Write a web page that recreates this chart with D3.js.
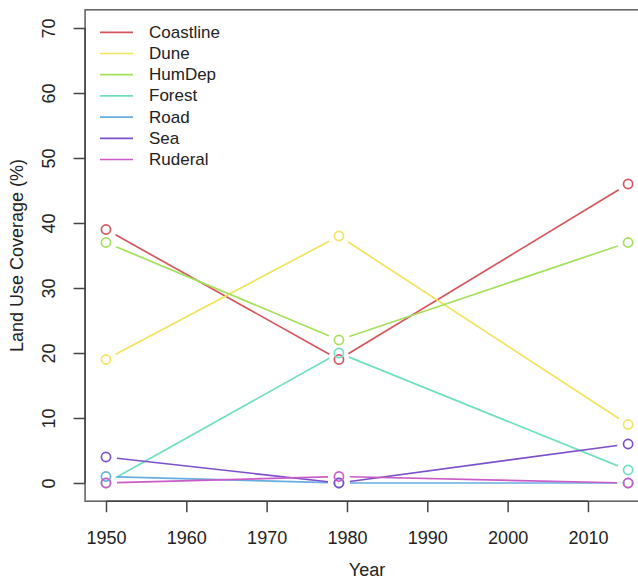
<!DOCTYPE html>
<html>
<head>
<meta charset="utf-8">
<script src="https://cdn.jsdelivr.net/npm/d3@7"></script>
<style>
  html, body { margin: 0; padding: 0; background: #fff; }
  svg { display: block; font-family: "Liberation Sans", Arial, Helvetica, sans-serif; }
</style>
</head>
<body>
<svg id="chart" width="638" height="579"></svg>
<script>
// ---- data ----
const years = [1950, 1979, 2015];
const seriesNames = ["Coastline", "Dune", "HumDep", "Forest", "Road", "Sea", "Ruderal"];
const coastline = [39, 19, 46];
const dune      = [19, 38, 9];
const humdep    = [37, 22, 37];
const forest    = [0, 20, 2];
const road      = [1, 0, 0];
const sea       = [4, 0, 6];
const ruderal   = [0, 1, 0];
const seriesColors = ["#D4575F", "#F1E35E", "#A5E05C", "#70DFC1", "#68ADE2", "#7B50CA", "#CB5BC7"];
const xTicks = [1950, 1960, 1970, 1980, 1990, 2000, 2010];
const yTicks = [0, 10, 20, 30, 40, 50, 60, 70];

const seriesValues = [coastline, dune, humdep, forest, road, sea, ruderal];

// ---- layout ----
const W = 638, H = 579;
const plotL = 85.1, plotR = 649, plotT = 9.8, plotB = 501.2;
const svg = d3.select("#chart");

// R-style 4% extension
const xMin = 1950, xMax = 2015, yMin = 0, yMax = 70;
const xPad = (xMax - xMin) * 0.04, yPad = (yMax - yMin) * 0.04;
const x = d3.scaleLinear().domain([xMin - xPad, xMax + xPad]).range([plotL, plotR]);
const y = d3.scaleLinear().domain([yMin - yPad, yMax + yPad]).range([plotB, plotT]);

const axisColor = "#444";
const textColor = "#222";

// box
svg.append("rect")
  .attr("x", plotL).attr("y", plotT)
  .attr("width", plotR - plotL).attr("height", plotB - plotT)
  .attr("fill", "none").attr("stroke", "#666").attr("stroke-width", 1.6);

// x axis
const gx = svg.append("g").attr("transform", `translate(0,${plotB})`)
  .call(d3.axisBottom(x).tickValues(xTicks).tickSize(11).tickPadding(0).tickFormat(d3.format("d")));
gx.select(".domain").remove();
gx.selectAll(".tick line").attr("stroke", axisColor).attr("stroke-width", 1.5);
gx.selectAll(".tick text").attr("y", 37).attr("dy", "0.35em")
  .attr("fill", textColor).style("font-size", "18px");
svg.append("line")
  .attr("x1", x(xTicks[0])).attr("x2", x(xTicks[xTicks.length - 1]))
  .attr("y1", plotB).attr("y2", plotB)
  .attr("stroke", axisColor).attr("stroke-width", 1.5);

// y axis
const gy = svg.append("g").attr("transform", `translate(${plotL},0)`)
  .call(d3.axisLeft(y).tickValues(yTicks).tickSize(11.5).tickPadding(0));
gy.select(".domain").remove();
gy.selectAll(".tick line").attr("stroke", axisColor).attr("stroke-width", 1.5);
gy.selectAll(".tick text")
  .attr("x", 0).attr("dy", null)
  .attr("text-anchor", "middle")
  .attr("dominant-baseline", "central")
  .attr("transform", `translate(${49 - plotL},0) rotate(-90)`)
  .attr("fill", textColor).style("font-size", "18px");
svg.append("line")
  .attr("x1", plotL).attr("x2", plotL)
  .attr("y1", y(yTicks[0])).attr("y2", y(yTicks[yTicks.length - 1]))
  .attr("stroke", axisColor).attr("stroke-width", 1.5);

// axis titles
svg.append("text")
  .attr("x", (plotL + plotR) / 2).attr("y", 576)
  .attr("text-anchor", "middle").attr("fill", textColor)
  .style("font-size", "18px").text("Year");
svg.append("text")
  .attr("transform", `translate(17,${(plotT + plotB) / 2}) rotate(-90)`)
  .attr("text-anchor", "middle").attr("dominant-baseline", "central")
  .attr("fill", textColor).style("font-size", "18px")
  .text("Land Use Coverage (%)");

// series (type = "b": lines with gaps + open circles)
const gap = 11;
const radius = 4.6;
seriesValues.forEach((vals, i) => {
  const col = seriesColors[i];
  const pts = vals.map((v, j) => [x(years[j]), y(v)]);
  const g = svg.append("g");
  for (let j = 0; j < pts.length - 1; j++) {
    const [x0, y0] = pts[j], [x1, y1] = pts[j + 1];
    const dx = x1 - x0, dy = y1 - y0;
    const len = Math.hypot(dx, dy);
    if (len <= 2 * gap) continue;
    const ux = dx / len, uy = dy / len;
    g.append("line")
      .attr("x1", x0 + ux * gap).attr("y1", y0 + uy * gap)
      .attr("x2", x1 - ux * gap).attr("y2", y1 - uy * gap)
      .attr("stroke", col).attr("stroke-width", 1.7);
  }
  g.selectAll("circle").data(pts).join("circle")
    .attr("cx", d => d[0]).attr("cy", d => d[1]).attr("r", radius)
    .attr("fill", "none").attr("stroke", col).attr("stroke-width", 1.7);
});

// legend
const legX0 = 100, legX1 = 133, legTextX = 149, legY0 = 32.3, legStep = 21.2;
const leg = svg.append("g");
seriesNames.forEach((name, i) => {
  const yy = legY0 + i * legStep;
  leg.append("line").attr("x1", legX0).attr("x2", legX1).attr("y1", yy).attr("y2", yy)
    .attr("stroke", seriesColors[i]).attr("stroke-width", 1.7);
  leg.append("text").attr("x", legTextX).attr("y", yy)
    .attr("dominant-baseline", "central").attr("fill", textColor)
    .style("font-size", "17px").text(name);
});
</script>
</body>
</html>
